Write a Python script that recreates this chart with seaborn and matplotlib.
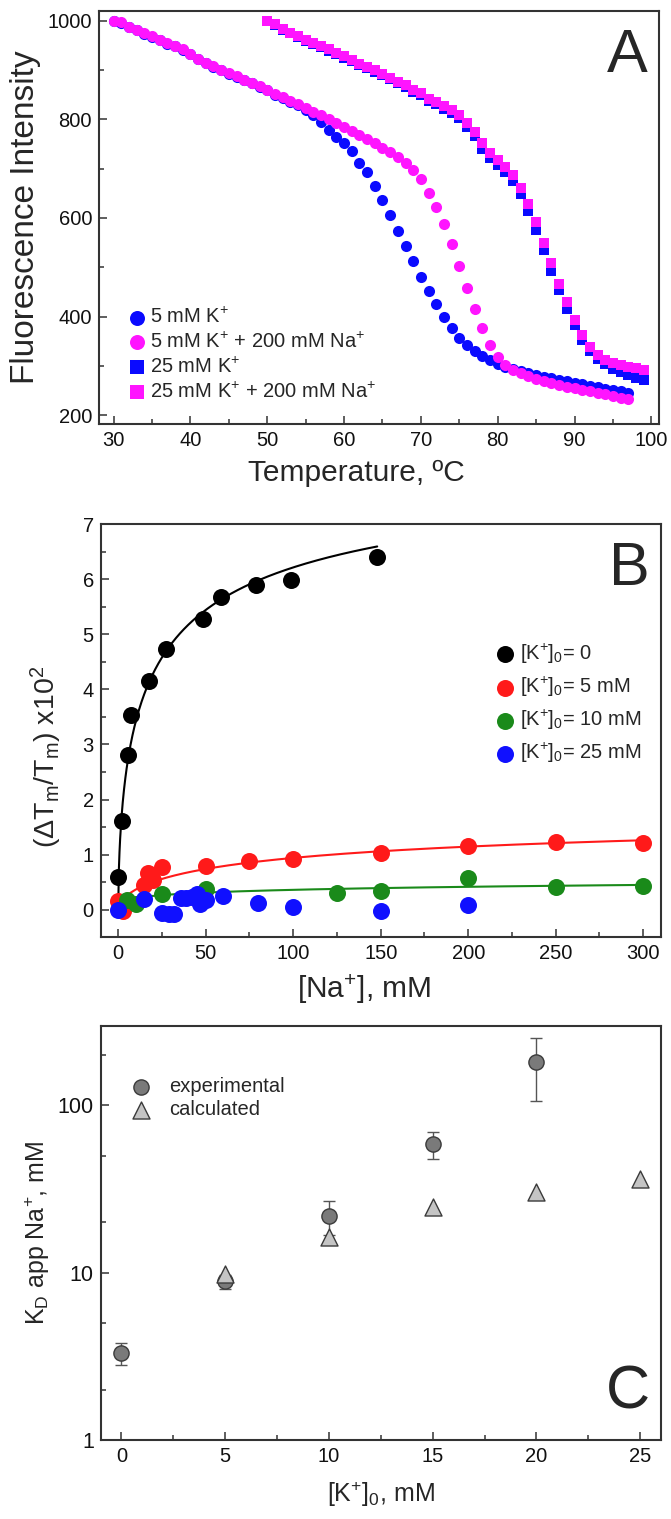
import numpy as np
import pandas as pd
import matplotlib
matplotlib.use("Agg")
import matplotlib.pyplot as plt
from matplotlib.ticker import MultipleLocator, FixedLocator, FixedFormatter, NullFormatter
import seaborn as sns

sns.set_style("ticks")
plt.rcParams["font.family"] = ["Liberation Sans", "DejaVu Sans"]
plt.rcParams["mathtext.fontset"] = "custom"
plt.rcParams["mathtext.rm"] = "Liberation Sans"
plt.rcParams["mathtext.it"] = "Liberation Sans"
plt.rcParams["mathtext.bf"] = "Liberation Sans:bold"

# ---------------- Panel A: melting curves ----------------
temp_5mM = list(range(30, 98))
fl_5K = [1000, 996, 987, 981, 974, 968, 961, 954, 948, 941,
         932, 922, 914, 907, 900, 893, 887, 880, 873, 866,
         859, 850, 843, 836, 829, 820, 808, 794, 779, 765,
         752, 735, 712, 693, 665, 637, 607, 574, 543, 513,
         481, 452, 425, 399, 377, 357, 343, 331, 320, 311,
         304, 298, 293, 289, 285, 281, 278, 275, 272, 269,
         266, 263, 260, 257, 254, 251, 248, 245]
fl_5K_Na = [1000, 997, 988, 982, 975, 969, 962, 955, 949, 942,
            933, 923, 915, 908, 901, 894, 888, 881, 874, 867,
            860, 852, 845, 838, 831, 824, 816, 808, 800, 792,
            785, 777, 769, 761, 752, 743, 734, 724, 712, 698,
            680, 650, 622, 588, 548, 503, 458, 416, 377, 342,
            318, 302, 292, 285, 279, 274, 269, 265, 261, 258,
            255, 252, 248, 245, 242, 238, 235, 232]

temp_25mM = list(range(50, 100))
fl_25K = [1000, 991, 982, 975, 968, 960, 953, 946, 939, 932,
          925, 918, 911, 904, 897, 890, 882, 873, 866, 856,
          849, 838, 831, 822, 813, 802, 785, 767, 740, 722,
          708, 694, 676, 648, 614, 576, 535, 493, 453, 416,
          382, 352, 330, 314, 303, 294, 287, 281, 276, 271]
fl_25K_Na = [1000, 993, 984, 976, 970, 962, 955, 949, 942, 935,
             928, 921, 913, 907, 900, 893, 885, 876, 870, 859,
             853, 842, 836, 827, 819, 809, 792, 775, 752, 732,
             717, 704, 687, 660, 628, 592, 550, 508, 467, 430,
             393, 362, 339, 322, 312, 305, 302, 298, 295, 291]

# ---------------- Panel B: Tm shift vs [Na+] ----------------
na_K0 = [0, 2, 5.5, 7.5, 17.5, 27.5, 48.5, 58.5, 78.5, 98.5, 148]
dtm_K0 = [0.60, 1.61, 2.80, 3.53, 4.15, 4.73, 5.27, 5.67, 5.90, 5.98, 6.40]

na_K5 = [0, 3, 15, 17, 20, 25, 50, 75, 100, 150, 200, 250, 300]
dtm_K5 = [0.15, -0.02, 0.45, 0.67, 0.54, 0.77, 0.79, 0.88, 0.92, 1.03, 1.15, 1.23, 1.21]

na_K10 = [5, 10, 25, 50, 125, 150, 200, 250, 300]
dtm_K10 = [0.17, 0.10, 0.28, 0.38, 0.31, 0.34, 0.57, 0.41, 0.43]

na_K25 = [0, 15, 25, 29, 32, 36, 39, 42, 45, 47, 50, 60, 80, 100, 150, 200]
dtm_K25 = [0.00, 0.20, -0.05, -0.08, -0.08, 0.21, 0.22, 0.24, 0.28, 0.11, 0.18,
           0.25, 0.13, 0.05, -0.03, 0.08]

# Hill-type fit parameters (Bmax, K, n) and fitted range
fit_params = {
    "K0": (8.57, 19.9, 0.6, 148),
    "K5": (1.985, 119.0, 0.6, 300),
    "K10": (1.22, 1785.0, 0.3, 300),
}

# ---------------- Panel C: apparent Kd ----------------
k0_exp = [0, 5, 10, 15, 20]
kd_exp = [3.3, 8.9, 21.8, 58.7, 181]
kd_err = [0.5, 0.85, 5.0, 11.0, 74]
k0_calc = [5, 10, 15, 20, 25]
kd_calc = [9.8, 16.3, 24.8, 30.5, 36.3]

SPINE = "#333333"
TICK_FS = 14.5
LABEL_FS = 21.5


def style_axes(ax):
    for sp in ax.spines.values():
        sp.set_visible(True)
        sp.set_color(SPINE)
        sp.set_linewidth(1.5)
    ax.tick_params(which="both", direction="in", color=SPINE, width=1.1,
                   top=False, right=False, labelsize=TICK_FS, pad=5,
                   labelcolor="#111111")
    ax.tick_params(which="major", length=6)
    ax.tick_params(which="minor", length=3.5)


def hill(x, bmax, k, n):
    x = np.asarray(x, dtype=float)
    return bmax * x ** n / (k ** n + x ** n)


fig = plt.figure(figsize=(6.71, 15.19), dpi=100)
W, H = 671.0, 1519.0


def axes_px(left, top, right, bottom):
    return fig.add_axes([left / W, 1 - bottom / H, (right - left) / W, (bottom - top) / H])


# ----- A -----
axA = axes_px(99, 11, 659, 424)
style_axes(axA)
BLUE = "#0a0aff"
MAG = "#ff14ff"
dfA1 = pd.DataFrame({"T": temp_5mM, "F": fl_5K})
dfA2 = pd.DataFrame({"T": temp_5mM, "F": fl_5K_Na})
dfA3 = pd.DataFrame({"T": temp_25mM, "F": fl_25K})
dfA4 = pd.DataFrame({"T": temp_25mM, "F": fl_25K_Na})
sns.scatterplot(data=dfA1, x="T", y="F", ax=axA, color=BLUE, marker="o", s=64,
                linewidth=0, label="5 mM K$^{+}$", zorder=3)
sns.scatterplot(data=dfA2, x="T", y="F", ax=axA, color=MAG, marker="o", s=64,
                linewidth=0, label="5 mM K$^{+}$ + 200 mM Na$^{+}$", zorder=4)
sns.scatterplot(data=dfA3, x="T", y="F", ax=axA, color=BLUE, marker="s", s=50,
                linewidth=0, label="25 mM K$^{+}$", zorder=5)
sns.scatterplot(data=dfA4, x="T", y="F", ax=axA, color=MAG, marker="s", s=50,
                linewidth=0, label="25 mM K$^{+}$ + 200 mM Na$^{+}$", zorder=6)
axA.set_xlim(28.1, 101)
axA.set_ylim(182, 1020)
axA.xaxis.set_major_locator(MultipleLocator(10))
axA.xaxis.set_minor_locator(MultipleLocator(5))
axA.yaxis.set_major_locator(FixedLocator([200, 400, 600, 800, 1000]))
axA.yaxis.set_minor_locator(MultipleLocator(100))
axA.set_xlabel("Temperature, ºC", fontsize=LABEL_FS, labelpad=8)
axA.xaxis.set_label_coords(0.46, -0.085, transform=axA.transAxes)
axA.xaxis.label.set_va("top")
axA.set_ylabel("Fluorescence Intensity", fontsize=24, labelpad=5)
axA.legend(loc="lower left", bbox_to_anchor=(0.02, 0.02), frameon=False,
           fontsize=14.5, handletextpad=0.0, handlelength=1.3, markerscale=1.35,
           labelspacing=0.24, borderaxespad=0.3)
axA.text(0.98, 0.96, "A", transform=axA.transAxes, ha="right", va="top",
         fontsize=44)

# ----- B -----
axB = axes_px(100.7, 524, 660.7, 937.3)
style_axes(axB)
for key, col in (("K0", "black"), ("K5", "#ff1a1a"), ("K10", "#1a8a1a")):
    bmax, k, n, xmax = fit_params[key]
    xf = np.linspace(0, xmax, 400)
    sns.lineplot(x=xf, y=hill(xf, bmax, k, n), ax=axB, color=col, lw=1.5,
                 zorder=2, legend=False)
sns.scatterplot(x=na_K0, y=dtm_K0, ax=axB, color="black", s=150, linewidth=0,
                label="[K$^{+}$]$_{0}$= 0", zorder=3)
sns.scatterplot(x=na_K5, y=dtm_K5, ax=axB, color="#ff1a1a", s=150, linewidth=0,
                label="[K$^{+}$]$_{0}$= 5 mM", zorder=4)
sns.scatterplot(x=na_K10, y=dtm_K10, ax=axB, color="#1a8a1a", s=150, linewidth=0,
                label="[K$^{+}$]$_{0}$= 10 mM", zorder=5)
sns.scatterplot(x=na_K25, y=dtm_K25, ax=axB, color="#1010ff", s=150, linewidth=0,
                label="[K$^{+}$]$_{0}$= 25 mM", zorder=6)
axB.set_xlim(-10, 310)
axB.set_ylim(-0.5, 7)
axB.xaxis.set_major_locator(MultipleLocator(50))
axB.xaxis.set_minor_locator(MultipleLocator(25))
axB.yaxis.set_major_locator(MultipleLocator(1))
axB.yaxis.set_minor_locator(MultipleLocator(0.5))
axB.set_xlabel("[Na$^{+}$], mM", fontsize=LABEL_FS, labelpad=6)
axB.xaxis.set_label_coords(0.47, -0.085, transform=axB.transAxes)
axB.xaxis.label.set_va("top")
axB.set_ylabel("($\\Delta$T$_{m}$/T$_{m}$) x10$^{2}$", fontsize=20.5)
axB.yaxis.set_label_coords(-0.066, 0.436)
axB.legend(loc="upper left", bbox_to_anchor=(0.685, 0.735), frameon=False,
           fontsize=14.5, handletextpad=0.05, handlelength=1.3,
           labelspacing=0.45, borderaxespad=0.0)
axB.text(0.98, 0.96, "B", transform=axB.transAxes, ha="right", va="top",
         fontsize=44)

# ----- C -----
axC = axes_px(100.7, 1025.7, 661, 1440)
style_axes(axC)
axC.errorbar(k0_exp, kd_exp, yerr=kd_err, fmt="none", ecolor="#555555",
             elinewidth=1.0, capsize=4, capthick=1.0, zorder=2)
sns.scatterplot(x=k0_exp, y=kd_exp, ax=axC, color="#7a7a7a", edgecolor="#3a3a3a",
                linewidth=1.0, s=120, marker="o", label="experimental", zorder=3)
sns.scatterplot(x=k0_calc, y=kd_calc, ax=axC, color="#c4c4c4", edgecolor="#3a3a3a",
                linewidth=1.0, s=150, marker="^", label="calculated", zorder=4)
axC.set_yscale("log")
axC.set_xlim(-1, 26)
axC.set_ylim(1, 300)
axC.xaxis.set_major_locator(MultipleLocator(5))
axC.xaxis.set_minor_locator(MultipleLocator(2.5))
axC.yaxis.set_major_locator(FixedLocator([1, 10, 100]))
axC.yaxis.set_major_formatter(FixedFormatter(["1", "10", "100"]))
axC.yaxis.set_minor_locator(FixedLocator([2, 5, 20, 50, 200]))
axC.yaxis.set_minor_formatter(NullFormatter())
axC.tick_params(axis="y", which="major", labelsize=15.5)
axC.set_xlabel("[K$^{+}$]$_{0}$, mM", fontsize=18, labelpad=10)
axC.set_ylabel("K$_{D}$ app Na$^{+}$, mM", fontsize=18, labelpad=4)
axC.legend(loc="upper left", bbox_to_anchor=(0.04, 0.895), frameon=False,
           fontsize=14.5, handletextpad=0.9, handlelength=1.0,
           labelspacing=0.2, borderaxespad=0.0)
axC.text(0.98, 0.045, "C", transform=axC.transAxes, ha="right", va="bottom",
         fontsize=44)

fig.savefig("out.png", dpi=100, facecolor="white")
